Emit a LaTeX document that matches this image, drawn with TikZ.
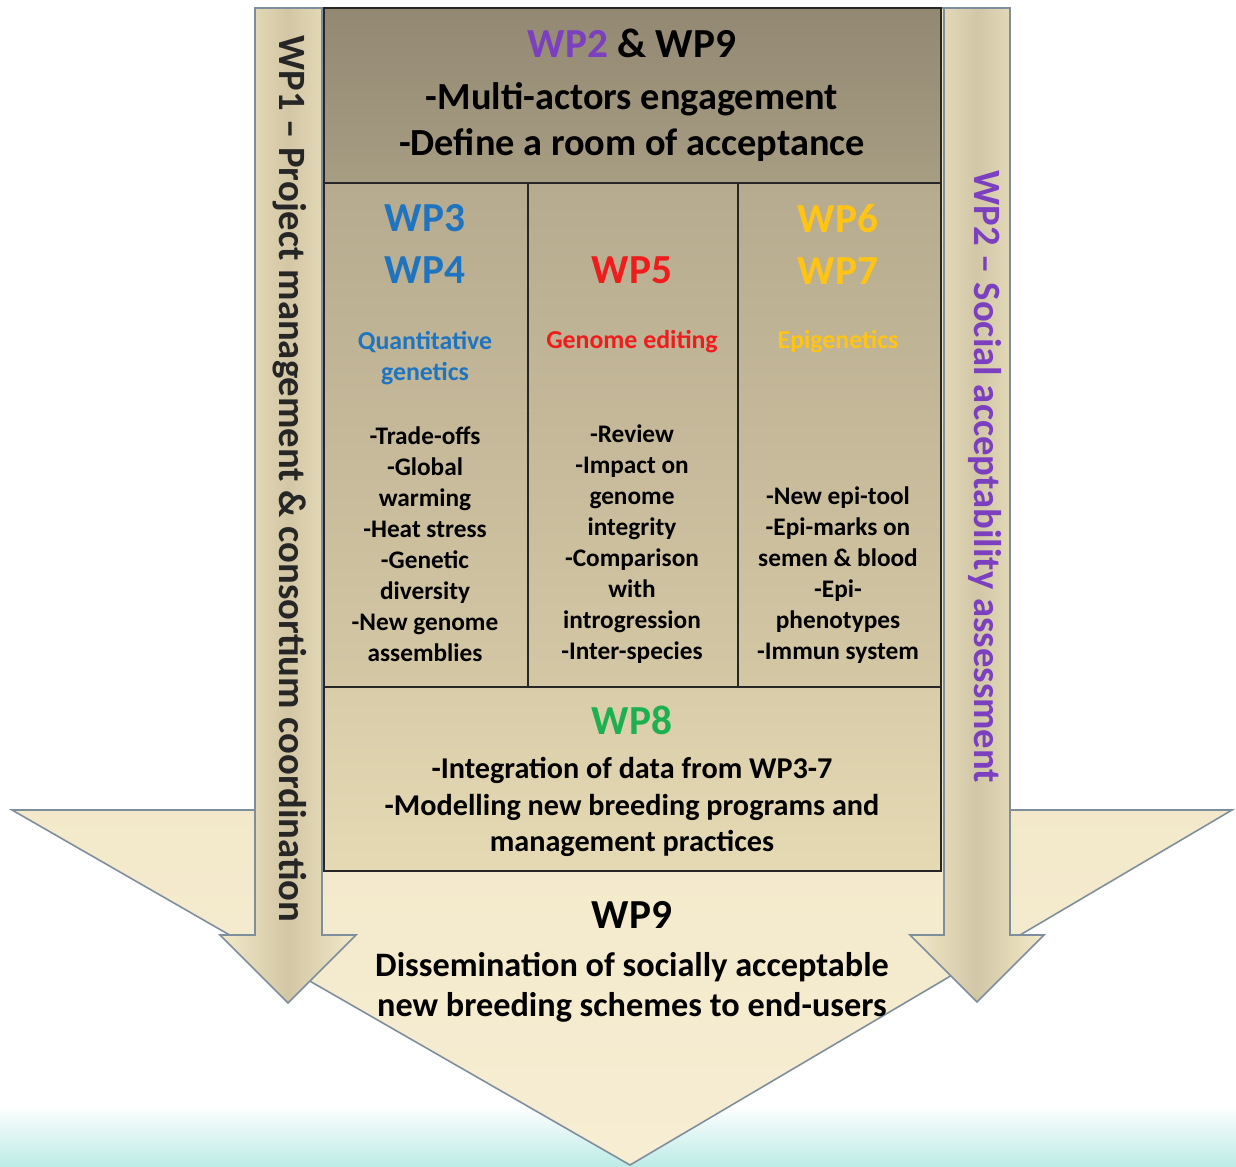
\documentclass[tikz,border=0pt]{standalone}
\usepackage{fontspec}
\setmainfont{Carlito}

\definecolor{wpPurple}{HTML}{7B3FC0}
\definecolor{wpBlue}{HTML}{1F74C0}
\definecolor{wpRed}{HTML}{EE1C1C}
\definecolor{wpYellow}{HTML}{FFC414}
\definecolor{wpGreen}{HTML}{1DB051}
\definecolor{arrowLine}{HTML}{7F8E9C}
\definecolor{creamLight}{HTML}{F6EDD3}
\definecolor{creamDark}{HTML}{ECDEB6}
\definecolor{stripLight}{HTML}{F3EAC8}
\definecolor{stripMid}{HTML}{D2C6A5}
\definecolor{topBoxA}{HTML}{938872}
\definecolor{topBoxB}{HTML}{A79D83}
\definecolor{colBoxA}{HTML}{B6AB8F}
\definecolor{colBoxB}{HTML}{D4C7A4}
\definecolor{wpBoxA}{HTML}{D9CCA8}
\definecolor{wpBoxB}{HTML}{E6DAB5}
\definecolor{bandCyan}{HTML}{BDEBE6}

\tikzset{
	arrowshape/.style={draw=arrowLine, line width=0.9pt, line join=miter},
	stripshape/.style={arrowshape, left color=stripLight, right color=stripLight, middle color=stripMid},
	wpbox/.style={draw=black!85, line width=1.3pt},
	wphead/.style={font=\bfseries\fontsize{23.5}{29.5}\selectfont, align=center, inner sep=0pt},
	toplines/.style={font=\bfseries\fontsize{21.8}{26.6}\selectfont, align=center, inner sep=0pt},
	subhead/.style={font=\bfseries\fontsize{14.7}{17.6}\selectfont, align=center, inner sep=0pt},
	items/.style={font=\bfseries\fontsize{14.4}{17.6}\selectfont, align=center, inner sep=0pt},
	wp8lines/.style={font=\bfseries\fontsize{17.2}{21}\selectfont, align=center, inner sep=0pt},
	wp9lines/.style={font=\bfseries\fontsize{19.5}{22.7}\selectfont, align=center, inner sep=0pt},
	striptext/.style={font=\bfseries\fontsize{22}{25}\selectfont, rotate=-90, inner sep=0pt},
}

\begin{document}
\begin{tikzpicture}[x=0.02cm, y=-0.02cm]
	\useasboundingbox (0,0) rectangle (1236,1166);
	\fill[white] (0,0) rectangle (1236,1166);
	\shade[top color=white, bottom color=bandCyan] (0,1105) rectangle (1236,1166);

	% big arrow and the two side arrows
	\path[arrowshape, top color=creamDark, bottom color=creamLight]
		(255,8) -- (1010,8) -- (1010,810) -- (1232,810) -- (630,1165) -- (12,810) -- (255,810) -- cycle;
	\path[stripshape] (255,8) -- (322,8) -- (322,935) -- (356,935) -- (288,1003) -- (220,935) -- (255,935) -- cycle;
	\path[stripshape] (944,8) -- (1010,8) -- (1010,935) -- (1044,935) -- (977,1002) -- (910,935) -- (944,935) -- cycle;

	% boxes
	\path[wpbox, top color=topBoxA, bottom color=topBoxB] (324,8) rectangle (941,183);
	\path[wpbox, top color=colBoxA, bottom color=colBoxB] (324,183) rectangle (528,687);
	\path[wpbox, top color=colBoxA, bottom color=colBoxB] (528,183) rectangle (738,687);
	\path[wpbox, top color=colBoxA, bottom color=colBoxB] (738,183) rectangle (941,687);
	\path[wpbox, top color=wpBoxA, bottom color=wpBoxB] (324,687) rectangle (941,871);

	\node[wphead] (wp29) at (632,43) {\textcolor{wpPurple}{WP2} \& WP9};
	\node[toplines] (wp29txt) at (632,122) {-Multi-actors engagement\\-Define a room of acceptance};

	\node[wphead, text=wpBlue] (wp34) at (425,244) {WP3\\WP4};
	\node[subhead, text=wpBlue] (wp34sub) at (425,358) {Quantitative\\genetics};
	\node[items] (wp34txt) at (425,544) {-Trade-offs\\-Global\\warming\\-Heat stress\\-Genetic\\diversity\\-New genome\\assemblies};

	\node[wphead, text=wpRed] (wp5) at (632,270) {WP5};
	\node[subhead, text=wpRed] (wp5sub) at (632,342) {Genome editing};
	\node[items] (wp5txt) at (632,544) {-Review\\-Impact on\\genome\\integrity\\-Comparison\\with\\introgression\\-Inter-species};

	\node[wphead, text=wpYellow] (wp67) at (838,244) {WP6\\WP7};
	\node[subhead, text=wpYellow] (wp67sub) at (838,342) {Epigenetics};
	\node[items] (wp67txt) at (838,575) {-New epi-tool\\-Epi-marks on\\semen \& blood\\-Epi-\\phenotypes\\-Immun system};

	\node[wphead, text=wpGreen] (wp8) at (632,720) {WP8};
	\node[wp8lines] (wp8txt) at (632,807) {-Integration of data from WP3-7\\-Modelling new breeding programs and\\management practices};

	\node[wphead] (wp9) at (632,915) {WP9};
	\node[wp9lines] (wp9txt) at (632,987) {Dissemination of socially acceptable\\new breeding schemes to end-users};

	\node[striptext, text=black!85] (wp1side) at (290,479) {WP1 -- Project management \& consortium coordination};
	\node[striptext, text=wpPurple] (wp2side) at (985,477) {WP2 -- Social acceptability assessment};
\end{tikzpicture}
\end{document}
